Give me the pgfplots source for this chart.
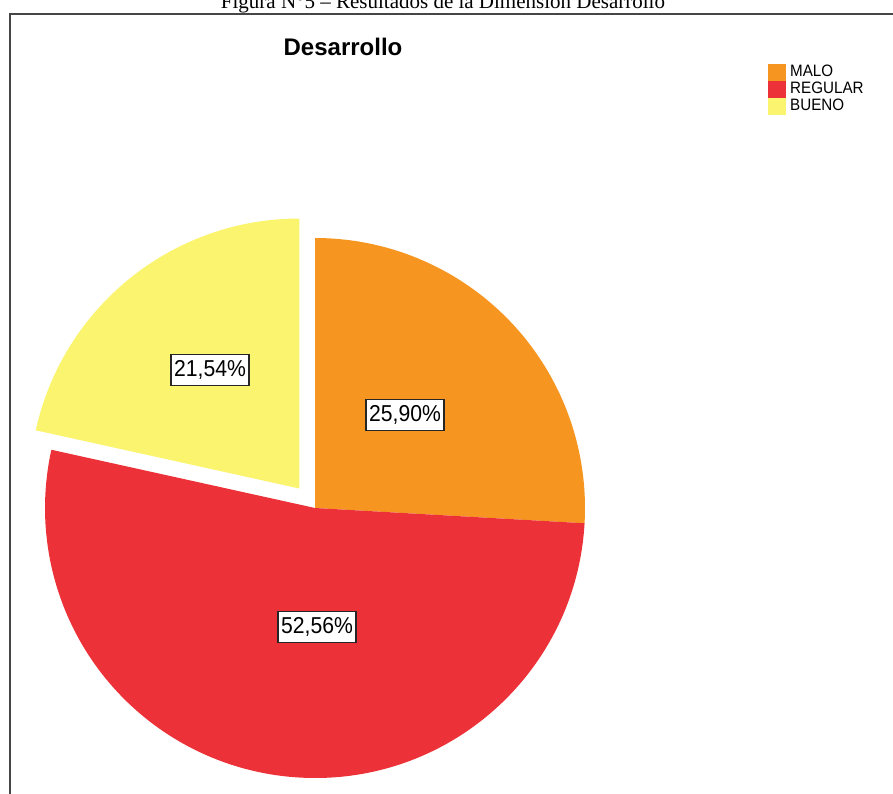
\documentclass[border=0pt]{standalone}
\usepackage{pgfplots}
\pgfplotsset{compat=1.18}
\usepackage{fontspec}
\setmainfont{Liberation Sans}
\newfontfamily\seriffont{Liberation Serif}
\newfontfamily\narrowfont[FakeStretch=0.92]{Liberation Sans}
\usetikzlibrary{calc}
\definecolor{malo}{RGB}{246,150,32}
\definecolor{regular}{RGB}{236,50,56}
\definecolor{bueno}{RGB}{250,244,110}
\definecolor{framegray}{RGB}{70,70,70}
\begin{document}
\begin{tikzpicture}
\clip (0,0) rectangle (893pt,793pt);
% data (percentages)
\def\pMalo{25.90}
\def\pRegular{52.56}
\def\pBueno{21.54}
\pgfmathsetmacro\aA{90}
\pgfmathsetmacro\aB{\aA-3.6*\pMalo}
\pgfmathsetmacro\aC{\aB-3.6*\pRegular}
\pgfmathsetmacro\aD{\aC-3.6*\pBueno}
\pgfmathsetmacro\mD{(\aC+\aD)/2}
\begin{axis}[at={(0,0)},anchor=south west,
  x=1pt,y=1pt,xmin=0,xmax=893,ymin=0,ymax=793,
  scale only axis,hide axis,clip=false,
  legend cell align=left,
  legend style={at={(axis cs:768,729)},anchor=north west,draw=none,fill=none,
    inner sep=0pt,column sep=4pt,row sep=0pt,
    font=\narrowfont\fontsize{16.5}{16.5}\selectfont,
    nodes={inner sep=0pt,text height=12pt,text depth=5pt}},
  legend image code/.code={\fill[#1] (0pt,-8.5pt) rectangle (18pt,8.5pt);}]
\addlegendimage{fill=malo,draw=none}
\addlegendentry{MALO}
\addlegendimage{fill=regular,draw=none}
\addlegendentry{REGULAR}
\addlegendimage{fill=bueno,draw=none}
\addlegendentry{BUENO}
% slices
\fill[malo] (axis cs:315,285) -- ++(\aA:270pt) arc[start angle=\aA,end angle=\aB,radius=270pt] -- cycle;
\fill[regular] (axis cs:315,285) -- ++(\aB:270pt) arc[start angle=\aB,end angle=\aC,radius=270pt] -- cycle;
\fill[bueno] ($(axis cs:315,285)+(\mD:25pt)$) -- ++(\aC:270pt) arc[start angle=\aC,end angle=\aD,radius=270pt] -- cycle;
% labels
\tikzset{lbl/.style={draw=black!85,fill=white,line width=1.5pt,inner xsep=3pt,inner ysep=6pt,font=\narrowfont\fontsize{23}{23}\selectfont}}
\node[lbl] at (axis cs:210,423) {21,54\%};
\node[lbl] at (axis cs:405,378) {25,90\%};
\node[lbl] at (axis cs:317,166) {52,56\%};
% title
\node[font=\bfseries\fontsize{24}{24}\selectfont] at (axis cs:343,746) {Desarrollo};
% frame
\draw[framegray,line width=2pt] (axis cs:10,-5) -- (axis cs:10,779) -- (axis cs:900,779);
% caption (cut at the top edge, as in the reference)
\node[anchor=base,font=\seriffont\fontsize{21}{21}\selectfont,inner sep=0pt] at (axis cs:443,784) {Figura N°5 – Resultados de la Dimensión Desarrollo};
\end{axis}
\end{tikzpicture}
\end{document}
